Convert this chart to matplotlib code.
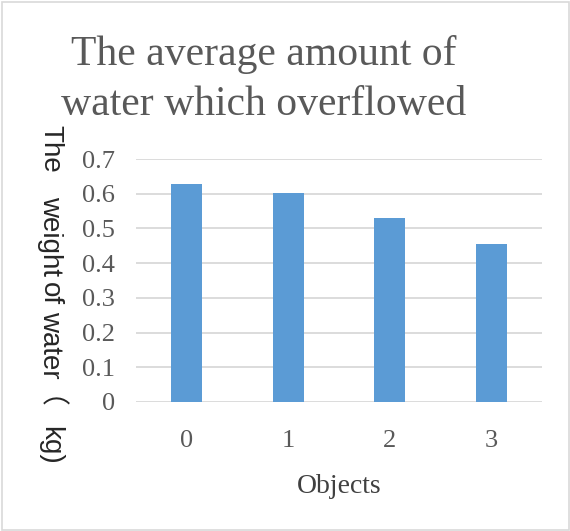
import matplotlib
matplotlib.use("Agg")
import matplotlib.pyplot as plt
from matplotlib.patches import Rectangle

categories = ["0", "1", "2", "3"]
values = [0.627, 0.601, 0.531, 0.454]
yticks = [0, 0.1, 0.2, 0.3, 0.4, 0.5, 0.6, 0.7]
ytick_labels = ["0", "0.1", "0.2", "0.3", "0.4", "0.5", "0.6", "0.7"]
title_lines = ["The average amount of", "water which overflowed"]
xlabel = "Objects"
ylabel_words = ["The", "weight", "of", "water", "（", "kg)"]

W, H = 570, 531
fig = plt.figure(figsize=(W / 100, H / 100), dpi=100)
fig.patch.set_facecolor("white")
fig.patches.append(Rectangle((1.5 / W, 1.5 / H), 1 - 3 / W, 1 - 3 / H, transform=fig.transFigure,
                             fill=False, edgecolor="#d9d9d9", linewidth=1.2))

ax = fig.add_axes([136 / W, 1 - 402 / H, (542 - 136) / W, (402 - 159) / H])
x = list(range(len(categories)))
ax.bar(x, values, width=0.31, color="#5B9BD5", zorder=3)
ax.set_xlim(-0.5, 3.5)
ax.set_ylim(0, 0.7)
ax.set_yticks(yticks)
ax.set_yticklabels(ytick_labels)
ax.set_xticks(x)
ax.set_xticklabels(categories)
ax.grid(axis="y", color="#d9d9d9", linewidth=1.3, zorder=0)
for s in ax.spines.values():
    s.set_visible(False)
ax.tick_params(length=0, colors="#595959", labelsize=19)
ax.tick_params(axis="y", pad=15)
ax.tick_params(axis="x", pad=20)
for lab in ax.get_xticklabels() + ax.get_yticklabels():
    lab.set_family("Liberation Serif")

for line, yb in zip(title_lines, [65, 115]):
    fig.text(264 / W, 1 - yb / H, line, ha="center", va="baseline", fontsize=30,
             color="#595959", family="Liberation Serif")

fig.text(339 / W, 1 - 493 / H, xlabel, ha="center", va="baseline", fontsize=20,
         color="#404040", family="Liberation Serif")

label_pos = [(43, 149), (43, 236), (43, 293.5), (43, 345), (25, 410), (43, 445)]
for word, (xp, yc) in zip(ylabel_words, label_pos):
    fam = ["Noto Sans CJK JP"] if word == "（" else ["Liberation Sans"]
    fig.text(xp / W, 1 - yc / H, word, ha="center", va="baseline", rotation=270,
             rotation_mode="anchor", fontsize=20, color="#262626", family=fam)

fig.savefig("out.png", dpi=100, facecolor="white")
